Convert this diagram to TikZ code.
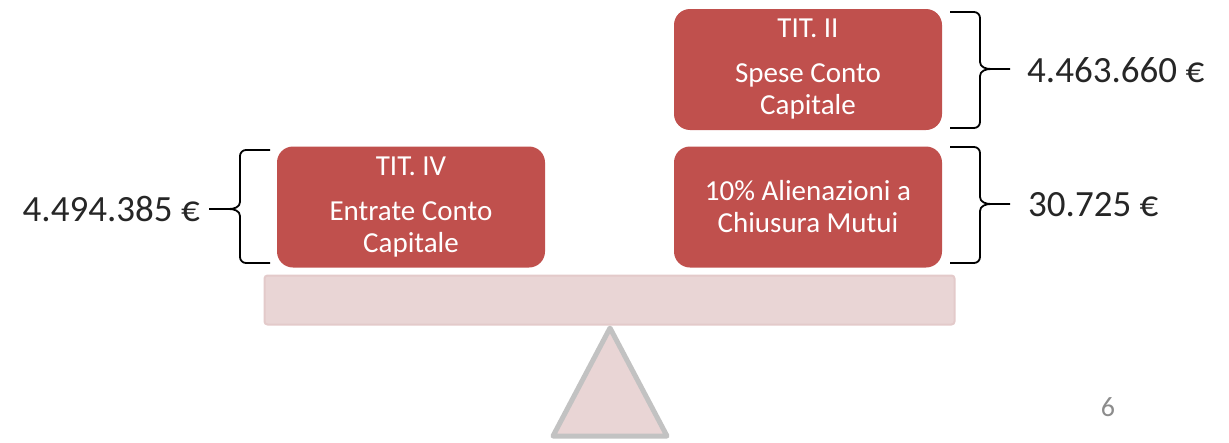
\documentclass[tikz,border=0pt]{standalone}
\usepackage{fontspec}
\setmainfont{Carlito}
\definecolor{boxred}{HTML}{C0504D}
\definecolor{beamfill}{HTML}{E9D5D5}
\definecolor{beamline}{HTML}{E3CACA}
\definecolor{trigray}{HTML}{C2C2C2}
\definecolor{amount}{HTML}{262626}
\definecolor{pagegray}{HTML}{8C8C8C}
\begin{document}
\begin{tikzpicture}[x=1pt,y=-1pt,
  redbox/.style={fill=boxred, draw=none, rounded corners=16pt, minimum width=268pt, minimum height=121pt,
    text=white, align=center, inner sep=0pt, font=\fontsize{29}{32}\selectfont},
  amt/.style={text=amount, font=\fontsize{37}{40}\selectfont, inner sep=0pt},
  bracestyle/.style={draw=black, line width=1.8pt, line join=round}
]
\useasboundingbox (0,0) rectangle (1229,442);
% fulcrum
\draw[draw=trigray, fill=beamfill, line width=5pt, line join=round] (610,328) -- (667,436) -- (553,436) -- cycle;
% beam
\node[draw=beamline, fill=beamfill, line width=2pt, rounded corners=3pt, minimum width=690pt, minimum height=49pt, inner sep=0pt] (beam) at (609.5,300) {};
% boxes
\node[redbox] (tit2) at (808,69.5) {TIT. II\\[13pt]Spese Conto\\Capitale};
\node[redbox] (alien) at (808,207) {10\% Alienazioni a\\Chiusura Mutui};
\node[redbox] (tit4) at (411,207) {TIT. IV\\[13pt]Entrate Conto\\Capitale};
% braces
\draw[bracestyle] (950,12) -- (974,12) to[out=0,in=90] (980,18) -- (980,62) to[out=270,in=180] (991,69) -- (1010,69);
\draw[bracestyle] (991,69) to[out=180,in=90] (980,76) -- (980,122) to[out=270,in=0] (974,128) -- (950,128);
\draw[bracestyle] (950,147) -- (974,147) to[out=0,in=90] (980,153) -- (980,197) to[out=270,in=180] (991,204) -- (1010,204);
\draw[bracestyle] (991,204) to[out=180,in=90] (980,211) -- (980,257) to[out=270,in=0] (974,263) -- (950,263);
\draw[bracestyle] (270,150) -- (246,150) to[out=180,in=90] (240,156) -- (240,202) to[out=270,in=0] (229,209) -- (209,209);
\draw[bracestyle] (229,209) to[out=0,in=90] (240,216) -- (240,257) to[out=270,in=180] (246,263) -- (270,263);
% amounts
\node[amt, anchor=west] (a1) at (1027,70) {4.463.660 €};
\node[amt, anchor=west] (a2) at (1028,205) {30.725 €};
\node[amt, anchor=east] (a3) at (200,209) {4.494.385 €};
% page number
\node[text=pagegray, font=\fontsize{28}{30}\selectfont, inner sep=0pt] (pg) at (1108,407) {6};
\end{tikzpicture}
\end{document}
